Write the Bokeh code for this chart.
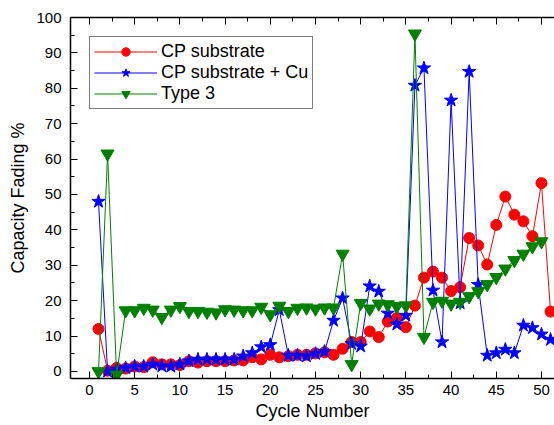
from bokeh.plotting import figure
from bokeh.models import LinearAxis, Range1d, Legend, LegendItem, SingleIntervalTicker
from bokeh.embed import file_html
from bokeh.resources import INLINE

cycles = list(range(1, 52))
cp_substrate = [12.0, 0.2, 1.0, 0.8, 1.4, 1.2, 2.6, 2.0, 2.0, 1.8,
                2.9, 2.5, 2.9, 2.9, 2.9, 3.1, 3.1, 4.0, 3.4, 4.7,
                4.0, 4.3, 4.7, 4.7, 5.1, 5.4, 4.7, 6.4, 8.3, 8.3,
                11.3, 9.7, 14.1, 15.1, 12.5, 18.6, 26.5, 28.2, 26.5, 22.7,
                23.8, 37.7, 35.6, 30.2, 41.4, 49.4, 44.3, 42.4, 38.2, 53.2,
                16.9]
cp_substrate_cu = [48.0, 0.0, 0.6, 1.0, 1.4, 1.4, 2.0, 1.5, 1.4, 2.0,
                   2.9, 3.4, 3.4, 3.4, 3.4, 3.4, 4.3, 5.2, 6.9, 7.5,
                   17.4, 4.5, 4.5, 4.3, 5.0, 5.6, 14.4, 20.7, 7.8, 7.1,
                   24.1, 22.6, 16.4, 13.3, 15.8, 80.8, 85.7, 22.9, 8.3, 76.6,
                   19.3, 84.7, 24.5, 4.5, 5.2, 6.2, 5.2, 13.0, 12.3, 10.5,
                   9.0]
cycles_type3 = list(range(1, 51))
type3 = [0.0, 61.5, -1.0, 17.2, 17.2, 17.9, 17.4, 15.3, 17.4, 18.4,
         17.0, 17.0, 16.8, 16.6, 17.5, 17.4, 17.2, 17.2, 18.2, 16.1,
         18.5, 17.0, 17.9, 18.0, 17.7, 18.0, 18.0, 33.2, 2.0, 19.3,
         17.7, 19.1, 18.9, 18.4, 18.6, 95.4, 9.7, 19.6, 19.9, 19.1,
         19.6, 21.2, 22.6, 24.6, 26.6, 29.0, 31.4, 33.2, 35.3, 36.7]

FONT = "Liberation Sans"

p = figure(width=554, height=425, output_backend="svg", toolbar_location=None,
           x_range=Range1d(-2.1, 51.44), y_range=Range1d(-2, 100),
           min_border_left=70, min_border_right=0, min_border_top=17,
           min_border_bottom=47,
           background_fill_color="white", border_fill_color="white")
p.outline_line_color = None
p.xgrid.visible = False
p.ygrid.visible = False

for ax, step in ((p.xaxis[0], 5), (p.yaxis[0], 10)):
    ax.ticker = SingleIntervalTicker(interval=step, num_minor_ticks=2)
    ax.major_tick_in = 7
    ax.major_tick_out = 0
    ax.minor_tick_in = 4
    ax.minor_tick_out = 0
    ax.axis_line_width = 1.5
    ax.axis_line_color = "black"
    ax.major_tick_line_color = "black"
    ax.minor_tick_line_color = "black"
    ax.major_label_text_font = FONT
    ax.major_label_text_font_size = "15px"
    ax.major_label_text_color = "black"
    ax.axis_label_text_font = FONT
    ax.axis_label_text_font_size = "18px"
    ax.axis_label_text_font_style = "normal"
    ax.axis_label_text_color = "black"

p.xaxis.axis_label = "Cycle Number"
p.yaxis.axis_label = "Capacity Fading %"
p.xaxis.major_label_standoff = 6
p.xaxis.axis_label_standoff = 3
p.yaxis.major_label_standoff = 9
p.yaxis.axis_label_standoff = 5

top = LinearAxis(ticker=SingleIntervalTicker(interval=5, num_minor_ticks=2),
                 major_tick_in=7, major_tick_out=0, minor_tick_in=4, minor_tick_out=0,
                 axis_line_width=1.5, major_label_text_font_size="1px",
                 major_label_text_color=None, major_label_standoff=0)
p.add_layout(top, "above")

r1l = p.line(cycles, cp_substrate, line_color="#FF0000", line_width=1)
r1m = p.scatter(cycles, cp_substrate, marker="circle", size=11,
                fill_color="#FF0000", line_color="#FF0000")
r2l = p.line(cycles, cp_substrate_cu, line_color="#0000FF", line_width=1)
r2m = p.scatter(cycles, cp_substrate_cu, marker="star", size=14,
                fill_color="#0000FF", line_color="#0000FF")
r3l = p.line(cycles_type3, type3, line_color="#008000", line_width=1)
r3m = p.scatter(cycles_type3, type3, marker="inverted_triangle", size=13,
                fill_color="#008000", line_color="#008000")

legend = Legend(items=[
    LegendItem(label="CP substrate", renderers=[r1l, r1m]),
    LegendItem(label="CP substrate + Cu", renderers=[r2l, r2m]),
    LegendItem(label="Type 3", renderers=[r3l, r3m]),
], location="top_left", margin=19, padding=4, spacing=0,
   glyph_width=63, glyph_height=21, label_height=21, label_standoff=4,
   label_text_font=FONT, label_text_font_size="18px", label_text_color="black",
   border_line_color="black", border_line_width=1, background_fill_color="white",
   background_fill_alpha=1.0)
p.add_layout(legend, "center")

open("out.html", "w").write(file_html(p, INLINE))
